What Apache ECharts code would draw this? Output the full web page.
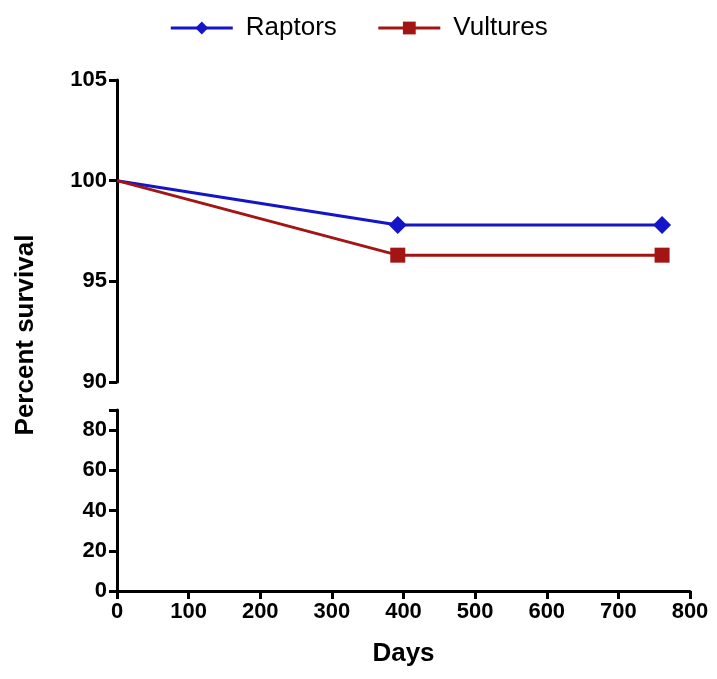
<!DOCTYPE html>
<html><head><meta charset="utf-8">
<script src="https://cdn.jsdelivr.net/npm/echarts@6/dist/echarts.min.js"></script>
<style>html,body{margin:0;background:#fff}#c{width:717px;height:679px}</style>
</head><body><div id="c"></div>
<script>
const days = [0, 392, 761];
const raptors = [100, 97.8, 97.8];
const vultures = [100, 96.3, 96.3];
const bottomTicks = [0, 20, 40, 60, 80];

const F = '"Liberation Sans", Arial, sans-serif';
const chart = echarts.init(document.getElementById('c'));
const pts = (ys) => days.map((d, i) => i === 0 ? {value: [d, ys[i]], symbol: 'none'} : [d, ys[i]]);
const axisLbl = {color: '#000', fontFamily: F, fontWeight: 'bold', fontSize: 22};
chart.setOption({
  animation: false,
  legend: {
    top: 10, left: 'center', itemWidth: 62, itemHeight: 16, itemGap: 40,
    lineStyle: {width: 3},
    textStyle: {fontFamily: F, fontSize: 26, color: '#000', padding: [0, 0, 0, 8]},
    data: ['Raptors', 'Vultures']
  },
  grid: [
    {left: 117, top: 80, width: 573, height: 302},
    {left: 117, top: 410, width: 573, height: 181}
  ],
  xAxis: [
    {gridIndex: 0, type: 'value', min: 0, max: 800, show: false},
    {gridIndex: 1, type: 'value', min: 0, max: 800, interval: 100,
     axisLine: {lineStyle: {color: '#000', width: 3}},
     axisTick: {length: 8, lineStyle: {color: '#000', width: 3}},
     axisLabel: Object.assign({margin: 10}, axisLbl), splitLine: {show: false},
     name: 'Days', nameLocation: 'middle', nameGap: 50,
     nameTextStyle: {fontFamily: F, fontWeight: 'bold', fontSize: 26, color: '#000'}}
  ],
  yAxis: [
    {gridIndex: 0, type: 'value', min: 90, max: 105, interval: 5,
     axisLine: {show: true, lineStyle: {color: '#000', width: 3}},
     axisTick: {show: true, length: 8, lineStyle: {color: '#000', width: 3}},
     axisLabel: Object.assign({margin: 10}, axisLbl), splitLine: {show: false}},
    {gridIndex: 1, type: 'value', min: 0, max: 90, interval: 10,
     axisLine: {show: true, lineStyle: {color: '#000', width: 3}},
     axisTick: {show: true, length: 8, customValues: bottomTicks.concat([90]), lineStyle: {color: '#000', width: 3}},
     axisLabel: Object.assign({margin: 10, customValues: bottomTicks}, axisLbl), splitLine: {show: false}}
  ],
  graphic: [{type: 'text', rotation: Math.PI / 2, position: [26, 335], style: {
    text: 'Percent survival', x: 0, y: 0, font: 'bold 26px ' + F, fill: '#000', align: 'center', verticalAlign: 'middle'}}],
  series: [
    {name: 'Raptors', type: 'line', xAxisIndex: 0, yAxisIndex: 0, data: pts(raptors),
     color: '#1414c8', symbol: 'diamond', symbolSize: 18, lineStyle: {width: 3}},
    {name: 'Vultures', type: 'line', xAxisIndex: 0, yAxisIndex: 0, data: pts(vultures),
     color: '#a31515', symbol: 'rect', symbolSize: 15, lineStyle: {width: 3}}
  ]
});
</script></body></html>
